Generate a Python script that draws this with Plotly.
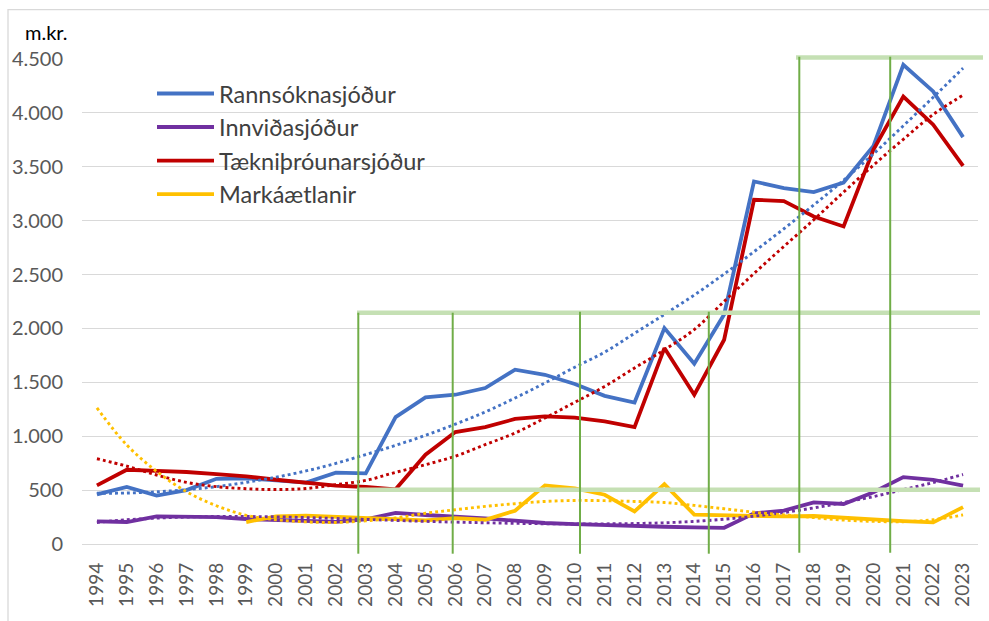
import plotly.graph_objects as go

# ---------------- data ----------------
years = list(range(1994, 2024))

rannsoknasjodur = [460, 530, 450, 500, 605, 610, 590, 570, 662, 655,
                   1178, 1360, 1385, 1447, 1617, 1570, 1484, 1375, 1313, 2003,
                   1672, 2130, 3364, 3302, 3265, 3354, 3694, 4446, 4199, 3775]
innvidasjodur = [210, 204, 256, 254, 250, 232, 225, 212, 205, 228,
                 288, 269, 256, 238, 216, 195, 185, 175, 165, 160,
                 155, 150, 285, 309, 386, 371, 480, 621, 596, 541]
taeknithrounarsjodur = [544, 689, 678, 668, 649, 627, 596, 565, 541, 529,
                        507, 828, 1039, 1085, 1160, 1184, 1172, 1137, 1085, 1818,
                        1385, 1895, 3194, 3182, 3039, 2946, 3660, 4152, 3890, 3509]
markaaetlanir = [None, None, None, None, None, 204, 256, 263, 250, 245,
                 228, 219, 241, 225, 309, 544, 516, 457, 302, 556,
                 272, 265, 262, 256, 260, 242, 225, 213, 200, 342]

# trend lines (dotted)
rann_trend = [471, 473, 484, 504, 532, 572, 620, 678, 748, 830,
              915, 1008, 1112, 1225, 1355, 1494, 1640, 1780, 1955, 2130,
              2310, 2505, 2712, 2925, 3145, 3375, 3620, 3880, 4145, 4415]
taekni_trend = [791, 722, 640, 572, 532, 513, 505, 515, 550, 590,
                665, 736, 815, 922, 1030, 1169, 1315, 1462, 1633, 1802,
                1990, 2250, 2510, 2761, 3008, 3265, 3515, 3755, 3985, 4165]
innvid_trend = [200, 225, 240, 250, 255, 255, 252, 245, 237, 228,
                219, 210, 203, 197, 192, 188, 186, 187, 190, 197,
                210, 230, 258, 292, 335, 385, 440, 505, 570, 645]
mark_trend = [1262, 918, 674, 485, 355, 266, 225, 205, 200, 215,
              241, 285, 318, 349, 374, 395, 404, 402, 395, 385,
              358, 327, 295, 270, 245, 222, 210, 207, 225, 270]

series_names = ["Rannsóknasjóður", "Innviðasjóður", "Tækniþróunarsjóður", "Markáætlanir"]
series_colors = ["#4472C4", "#7030A0", "#C00000", "#FFC000"]
y_ticks = [0, 500, 1000, 1500, 2000, 2500, 3000, 3500, 4000, 4500]

# ---------------- figure ----------------
fig = go.Figure()

values = [rannsoknasjodur, innvidasjodur, taeknithrounarsjodur, markaaetlanir]
trends = [rann_trend, innvid_trend, taekni_trend, mark_trend]

for i, (name, col, vals) in enumerate(zip(series_names, series_colors, values)):
    fig.add_trace(go.Scatter(
        x=years, y=vals, name=name, mode="lines",
        line=dict(color=col, width=3.8),
        legendgroup=f"g{i}", legendrank=i + 1,
        connectgaps=False,
    ))

for name, col, tr in zip(series_names, series_colors, trends):
    fig.add_trace(go.Scatter(
        x=years, y=tr, mode="lines", showlegend=False, hoverinfo="skip",
        line=dict(color=col, width=2.9, dash="2.9px,3.1px", shape="spline", smoothing=1.0),
    ))

# plot-area geometry (pixels) used to place decorative shapes
L, R, T, B = 82, 978, 59.3, 544.3
W, H = R - L, B - T


def px(xp):
    return (xp - L) / W


def py(yp):
    return (B - yp) / H


shapes = []
# chart border (left + top visible)
shapes.append(dict(type="rect", xref="paper", yref="paper",
                   x0=px(8), x1=px(996), y0=py(626), y1=py(10),
                   line=dict(color="#D9D9D9", width=1.3), fillcolor="rgba(0,0,0,0)",
                   layer="below"))

# light green horizontal bars
bar_col = "#C5E0B4"
for (xa, xb, yy) in [(796, 983, 57.8), (357, 980, 313), (357, 980, 490)]:
    shapes.append(dict(type="line", xref="paper", yref="paper",
                       x0=px(xa), x1=px(xb), y0=py(yy), y1=py(yy),
                       line=dict(color=bar_col, width=4.5), layer="above"))

# darker green vertical lines
vcol = "#70AD47"
for (xx, ya, yb) in [(358.3, 313, 554), (452.7, 313, 554), (580, 312, 554),
                     (708.8, 312, 554), (799.3, 57, 553), (890.2, 57, 553)]:
    shapes.append(dict(type="line", xref="paper", yref="paper",
                       x0=px(xx), x1=px(xx), y0=py(ya), y1=py(yb),
                       line=dict(color=vcol, width=2), layer="above"))

fig.update_layout(
    width=989, height=621,
    margin=dict(l=L, r=989 - R, t=T, b=621 - B),
    paper_bgcolor="white", plot_bgcolor="white",
    separators=",.",
    font=dict(family="Lato, 'Open Sans', sans-serif", color="#595959", size=18),
    showlegend=True,
    legend=dict(
        x=px(152), y=py(72), xanchor="left", yanchor="top",
        bgcolor="rgba(0,0,0,0)", borderwidth=0,
        font=dict(size=23.5, color="#404040", family="Lato, 'Open Sans', sans-serif"),
        itemwidth=57, tracegroupgap=0, traceorder="grouped",
    ),
    shapes=shapes,
    annotations=[dict(text="m.kr.", xref="paper", yref="paper",
                      x=px(23), y=py(32), xanchor="left", yanchor="middle",
                      showarrow=False, font=dict(size=20, color="#000000"))],
)

fig.update_xaxes(
    range=[1993.5, 2023.5], tickmode="array", tickvals=years,
    ticktext=[str(y) for y in years], tickangle=-90,
    showgrid=False, zeroline=False, showline=False,
    ticks="", ticklabelstandoff=14,
    tickfont=dict(size=19, color="#595959"),
)
fig.update_yaxes(
    range=[0, 4500], tickmode="array", tickvals=y_ticks, tickformat=",d",
    showgrid=True, gridcolor="#D9D9D9", gridwidth=1.3,
    zeroline=True, zerolinecolor="#D9D9D9", zerolinewidth=1.3,
    showline=False, ticks="", ticklabelstandoff=18,
    tickfont=dict(size=20, color="#595959"),
)

fig.write_html(
    "out.html",
    config={"displayModeBar": False},
    post_script="document.body.style.margin='0';document.body.style.overflow='hidden';",
)
